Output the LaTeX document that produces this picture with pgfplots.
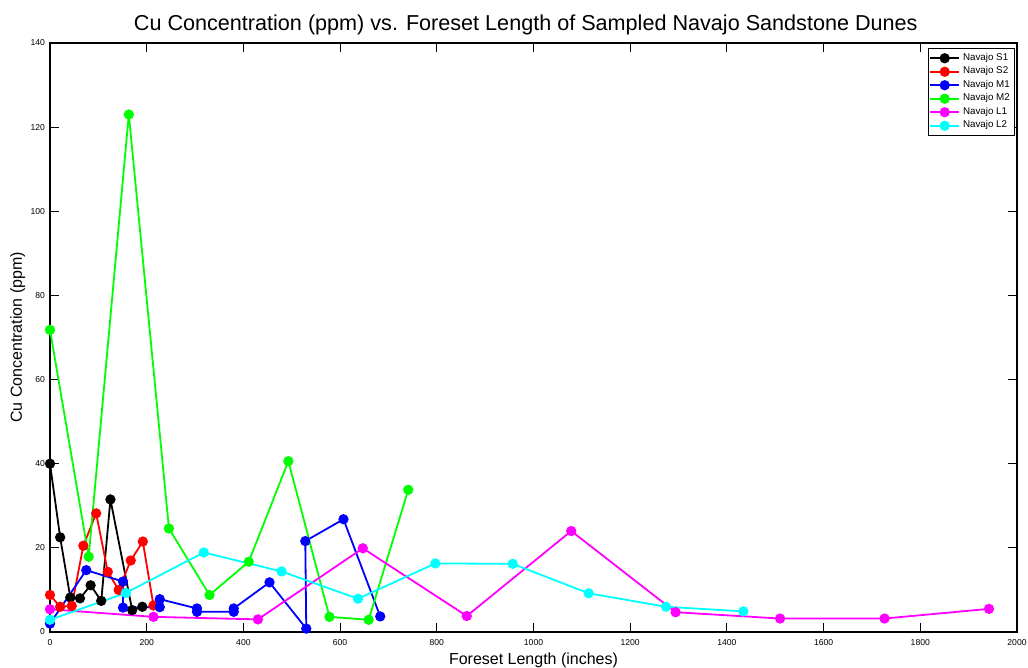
\documentclass[border=0pt]{standalone}
\usepackage{fontspec}
\setmainfont{Liberation Sans}
\usepackage{pgfplots}
\pgfplotsset{compat=1.18}
\definecolor{mblack}{rgb}{0,0,0}
\definecolor{mred}{rgb}{1,0,0}
\definecolor{mblue}{rgb}{0,0,1}
\definecolor{mgreen}{rgb}{0,1,0}
\definecolor{mmagenta}{rgb}{1,0,1}
\definecolor{mcyan}{rgb}{0,1,1}
\begin{document}
\begin{tikzpicture}
\useasboundingbox (-25pt,-18pt) rectangle (489pt,316pt);
\begin{axis}[
  at={(0,0)}, anchor=south west,
  scale only axis, width=483.5pt, height=294.5pt,
  xmin=0, xmax=2000, ymin=0, ymax=140,
  xtick distance=200, ytick distance=20,
  major tick length=4.5pt,
  tick style={black, line width=0.5pt},
  axis line style={line width=0.6pt},
  ticklabel style={font=\fontsize{4.3}{5}\selectfont},
  yticklabel style={xshift=1pt},
  /pgf/number format/assume math mode=true,
  /pgf/number format/1000 sep={},
  title={Cu Concentration (ppm) vs. Foreset Length of Sampled Navajo Sandstone Dunes},
  title style={font=\fontsize{10.8}{13}\selectfont, at={(axis description cs:0.492,1)}, anchor=base},
  xlabel={Foreset Length (inches)},
  ylabel={Cu Concentration (ppm)},
  xlabel style={font=\fontsize{8}{9.5}\selectfont, at={(axis description cs:0.5,-0.056)}, anchor=base},
  ylabel style={font=\fontsize{8}{9.5}\selectfont, at={(axis description cs:-0.029,0.5)}, anchor=base},
  legend style={at={(axis description cs:0.998,0.9915)}, anchor=north east,
    font=\fontsize{4.9}{5.5}\selectfont, draw=black, inner sep=0.8pt, row sep=-1.5pt,
    nodes={inner sep=1.6pt}},
  legend cell align=left,
  legend image code/.code={\draw[line width=0.9pt,mark repeat=2,mark phase=2] plot coordinates {(0cm,0cm) (0.25cm,0cm) (0.5cm,0cm)};},
  every axis plot/.append style={line width=0.9pt, mark=*, mark size=2.1pt, mark options={solid}},
]
\addplot[mblack] coordinates {(0,40) (21,22.5) (42,8.2) (62,8.0) (84,11.1) (106,7.4) (125,31.5) (170,5.2) (191,6.0)};
\addlegendentry{Navajo S1}
\addplot[mred] coordinates {(0,8.8) (21,6.0) (45,6.2) (69,20.5) (95.5,28.2) (119.5,14.3) (142,10) (167,17) (192,21.5) (214,6.3)};
\addlegendentry{Navajo S2}
\addplot[mblue] coordinates {(0,2) (75,14.7) (151,12) (151,5.8) (227,5.9) (227,7.8) (304,5.6) (304,4.8) (380,4.8) (380,5.6) (454,11.8) (530,0.8) (528,21.6) (607,26.8) (683,3.7)};
\addlegendentry{Navajo M1}
\addplot[mgreen] coordinates {(0,71.8) (80,17.9) (163,123) (246,24.6) (330,8.8) (411,16.7) (493,40.6) (578,3.6) (659,2.9) (741,33.8)};
\addlegendentry{Navajo M2}
\addplot[mmagenta] coordinates {(0,5.4) (214,3.6) (430,3.0) (647,19.9) (862,3.8) (1078,24.0) (1294,4.7) (1510,3.2) (1726,3.2) (1942,5.5)};
\addlegendentry{Navajo L1}
\addplot[mcyan] coordinates {(0,2.9) (157,9.3) (318,18.9) (479,14.4) (637,7.9) (797,16.3) (957,16.2) (1114,9.2) (1274,6.0) (1434,4.9)};
\addlegendentry{Navajo L2}
\end{axis}
\end{tikzpicture}
\end{document}
